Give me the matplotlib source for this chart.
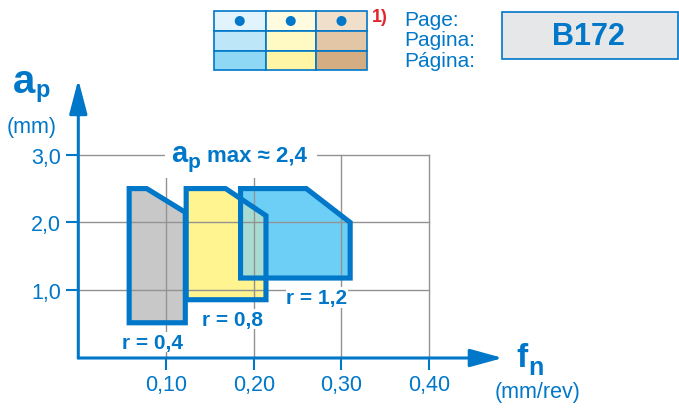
import matplotlib.pyplot as plt
from matplotlib.patches import Polygon, Rectangle, Circle
from matplotlib.transforms import Affine2D

W, H = 679, 410
blue = '#0077c8'
plt.rcParams['font.family'] = ['Liberation Sans', 'DejaVu Sans']

# axis ticks
x_ticks = [0.10, 0.20, 0.30, 0.40]
x_labels = ['0,10', '0,20', '0,30', '0,40']
y_ticks = [1.0, 2.0, 3.0]
y_labels = ['1,0', '2,0', '3,0']

# application areas per corner radius (feed fn, depth ap)
radii = ['0,4', '0,8', '1,2']
f_left = [0.058, 0.123, 0.185]
f_knee = [0.078, 0.168, 0.260]
f_right = [0.122, 0.214, 0.310]
ap_bottom = [0.52, 0.86, 1.18]
ap_top = [2.50, 2.50, 2.50]
ap_right = [2.15, 2.10, 2.00]
ap_max = '2,4'
fills = ['#c8c8c8', '#fff48f', '#6dcff6']
overlap_col = '#a8dcd2'

# header table colours (rows x cols)
table_colors = [['#e1f3fc', '#fffbe0', '#f0dfcb'],
                ['#bde6f8', '#fff9c4', '#e3c6a5'],
                ['#8fd8f5', '#fff5a5', '#d5ad82']]
page_words = ['Page:', 'Pagina:', 'Página:']
page_ref = 'B172'

fig = plt.figure(figsize=(W / 100, H / 100), dpi=100)
px = Affine2D().scale(1 / W, -1 / H).translate(0, 1) + fig.transFigure

ax = fig.add_axes([78.3 / W, (H - 359) / H, 350.8 / W, 203.3 / H])
ax.set_xlim(0, 0.4)
ax.set_ylim(0, 3.0)
for s in ax.spines.values():
    s.set_visible(False)
ax.set_axisbelow(True)
ax.set_xticks(x_ticks, x_labels)
ax.set_yticks(y_ticks, y_labels)
ax.tick_params(direction='out', length=8.5, width=1.5, color=blue,
               labelcolor=blue, labelsize=15.5)
ax.tick_params(axis='x', pad=3)
ax.tick_params(axis='y', pad=4)
ax.grid(color='#939393', lw=1.0)
for gl in ax.get_xgridlines() + ax.get_ygridlines():
    gl.set_clip_on(False)

# filled areas
patches = []
for i in range(3):
    pts = [(f_left[i], ap_bottom[i]), (f_left[i], ap_top[i]), (f_knee[i], ap_top[i]),
           (f_right[i], ap_right[i]), (f_right[i], ap_bottom[i])]
    p = Polygon(pts, closed=True, fc=fills[i], ec='none', zorder=0.2)
    ax.add_patch(p)
    patches.append(pts)

# blue area where it overlaps the yellow one
ov = Polygon(patches[2], closed=True, fc=overlap_col, ec='none', zorder=0.3)
ax.add_patch(ov)
clip = Polygon(patches[1], closed=True, transform=ax.transData)
ov.set_clip_path(clip)

for i in range(3):
    ax.add_patch(Polygon(patches[i], closed=True, fc='none', ec=blue, lw=3.7,
                         joinstyle='miter', zorder=2, clip_on=False))
    ax.annotate('r = ' + radii[i], xy=(f_right[i], ap_bottom[i]),
                xytext=(-2, -14), textcoords='offset points', ha='right', va='center',
                fontsize=15, fontweight='bold', color=blue, zorder=3,
                bbox=dict(fc='white', ec='none', pad=0.5))

# axis arrows
ax.annotate('', xy=(0, 4.11), xytext=(0, 0), annotation_clip=False,
            arrowprops=dict(arrowstyle='-|>,head_length=21,head_width=5.5',
                            mutation_scale=1, lw=2.2, color=blue,
                            shrinkA=0, shrinkB=0), zorder=2.5)
ax.annotate('', xy=(0.484, 0), xytext=(0, 0), annotation_clip=False,
            arrowprops=dict(arrowstyle='-|>,head_length=20,head_width=5.5',
                            mutation_scale=1, lw=2.2, color=blue,
                            shrinkA=0, shrinkB=0), zorder=2.5)

# axis titles
fig.text(13, 93, 'a', transform=px, fontsize=29, fontweight='bold', color=blue, va='baseline')
fig.text(35, 97, 'p', transform=px, fontsize=17, fontweight='bold', color=blue, va='baseline')
fig.text(32, 127, '(mm)', transform=px, fontsize=15.5, color=blue, ha='center', va='center')
fig.text(516, 367, 'f', transform=px, fontsize=24, fontweight='bold', color=blue, va='baseline')
fig.text(528, 375, 'n', transform=px, fontsize=18, fontweight='bold', color=blue, va='baseline')
fig.text(538, 393, '(mm/rev)', transform=px, fontsize=15.5, color=blue, ha='center', va='center')

# ap max label over the grid
fig.add_artist(Rectangle((165, 140), 152, 39, transform=px, fc='white', ec='none', zorder=1))
fig.text(171, 162, 'a', transform=px, fontsize=21, fontweight='bold', color=blue, va='baseline', zorder=3)
fig.text(188, 168, 'p', transform=px, fontsize=15, fontweight='bold', color=blue, va='baseline', zorder=3)
fig.text(207, 162, 'max \u2248 ' + ap_max, transform=px, fontsize=16, fontweight='bold',
         color=blue, va='baseline', zorder=3)

# header: grade table
col_x = [214, 265.5, 316, 367]
row_y = [12, 32, 51.7, 71]
for r in range(3):
    for c in range(3):
        fig.add_artist(Rectangle((col_x[c], row_y[r]), col_x[c + 1] - col_x[c],
                                 row_y[r + 1] - row_y[r], transform=px,
                                 fc=table_colors[r][c], ec=blue, lw=1.2))
for c in range(3):
    fig.add_artist(Circle(((col_x[c] + col_x[c + 1]) / 2, (row_y[0] + row_y[1]) / 2), 5,
                          transform=px, fc=blue, ec='none'))
fig.text(372, 18, '1)', transform=px, fontsize=13, fontweight='bold', color='#e2252b', va='center')
for k, wd in enumerate(page_words):
    fig.text(404, 26 + 20.5 * k, wd, transform=px, fontsize=15, color=blue, va='baseline')
fig.add_artist(Rectangle((502, 13), 176, 47, transform=px, fc='#e6e7e8', ec=blue, lw=1.2))
fig.text(588, 37, page_ref, transform=px, fontsize=22, fontweight='bold', color=blue,
         ha='center', va='center')

fig.savefig('out.png', dpi=100)
